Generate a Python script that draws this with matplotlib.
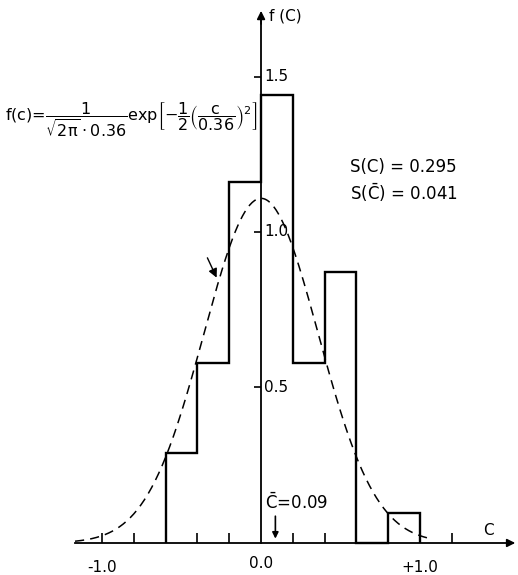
import numpy as np
import matplotlib.pyplot as plt

plt.rcParams['font.family'] = 'DejaVu Sans'
plt.rcParams['mathtext.fontset'] = 'dejavusans'
plt.rcParams['mathtext.default'] = 'regular'

# histogram of c, bin width 0.2
bin_edges = [-0.6, -0.4, -0.2, 0.0, 0.2, 0.4, 0.6, 0.8, 1.0]
density = [0.29, 0.58, 1.16, 1.44, 0.58, 0.87, 0.0, 0.095]

# normal fit
sigma = 0.36
c_mean = 0.09
s_c = 0.295
s_cbar = 0.041

x_ticks = [-1.0, -0.8, -0.6, -0.4, -0.2, 0.2, 0.4, 0.6, 0.8, 1.0, 1.2]
x_ticklabels = ['-1.0', '', '', '', '', '', '', '', '', '+1.0', '']
y_ticks = [0.5, 1.0, 1.5]

fig = plt.figure(figsize=(5.18, 5.75), dpi=100)
ax = fig.add_axes([0, 0, 1, 1])
ax.set_xlim(-1.642, 1.616)
ax.set_ylim(-0.103, 1.746)

# axes through the origin
for side in ['top', 'right']:
    ax.spines[side].set_visible(False)
ax.spines['left'].set_position(('data', 0))
ax.spines['bottom'].set_position(('data', 0))
ax.spines['bottom'].set_bounds(-1.17, 1.58)
ax.spines['left'].set_bounds(0, 1.68)
ax.spines['left'].set_linewidth(1.3)
ax.spines['bottom'].set_linewidth(1.3)
ax.annotate('', xy=(1.616, 0), xytext=(1.55, 0),
            arrowprops=dict(arrowstyle='-|>', color='k', lw=1.2, mutation_scale=12))
ax.annotate('', xy=(0, 1.72), xytext=(0, 1.66),
            arrowprops=dict(arrowstyle='-|>', color='k', lw=1.2, mutation_scale=12))

ax.set_xticks(x_ticks)
ax.set_xticklabels(x_ticklabels)
ax.tick_params(axis='x', direction='in', length=7, width=1.2, pad=12, labelsize=11)
ax.set_yticks(y_ticks)
ax.set_yticklabels([])
ax.tick_params(axis='y', direction='out', length=5, width=1.2)
for yt in y_ticks:
    ax.text(0.02, yt, f'{yt:.1f}', ha='left', va='center', fontsize=11)
ax.text(0.0, -0.065, '0.0', ha='center', va='center', fontsize=11)

ax.text(0.05, 1.695, 'f (C)', ha='left', va='center', fontsize=11)
ax.text(1.43, 0.04, 'C', ha='center', va='center', fontsize=11)

# histogram outline
ax.stairs(density, bin_edges, baseline=0, color='k', lw=1.7)

# fitted density
c = np.linspace(-1.17, 1.08, 300)
f = np.exp(-0.5 * (c / sigma) ** 2) / (np.sqrt(2 * np.pi) * sigma)
ax.plot(c, f, color='k', lw=1.1, ls=(0, (6, 4)))

ax.annotate('', xy=(-0.272, 0.845), xytext=(-0.345, 0.925),
            arrowprops=dict(arrowstyle='-|>', color='k', lw=1.0, mutation_scale=13))

# mean marker
ax.annotate('', xy=(c_mean, 0.005), xytext=(c_mean, 0.095),
            arrowprops=dict(arrowstyle='-|>', color='k', lw=1.2, mutation_scale=9))
ax.text(0.025, 0.13, r'$\bar{C}$=0.09', ha='left', va='center', fontsize=12)

ax.text(-1.61, 1.36,
        r'f(c)=$\dfrac{1}{\sqrt{2\pi}\cdot0.36}$exp$\left[-\dfrac{1}{2}\left(\dfrac{c}{0.36}\right)^2\right]$',
        ha='left', va='center', fontsize=11.5)

ax.text(0.56, 1.21, f'S(C) = {s_c}', ha='left', va='center', fontsize=12)
ax.text(0.56, 1.125, r'S($\bar{C}$) = ' + f'{s_cbar}', ha='left', va='center', fontsize=12)

fig.savefig('out.png', dpi=100)
